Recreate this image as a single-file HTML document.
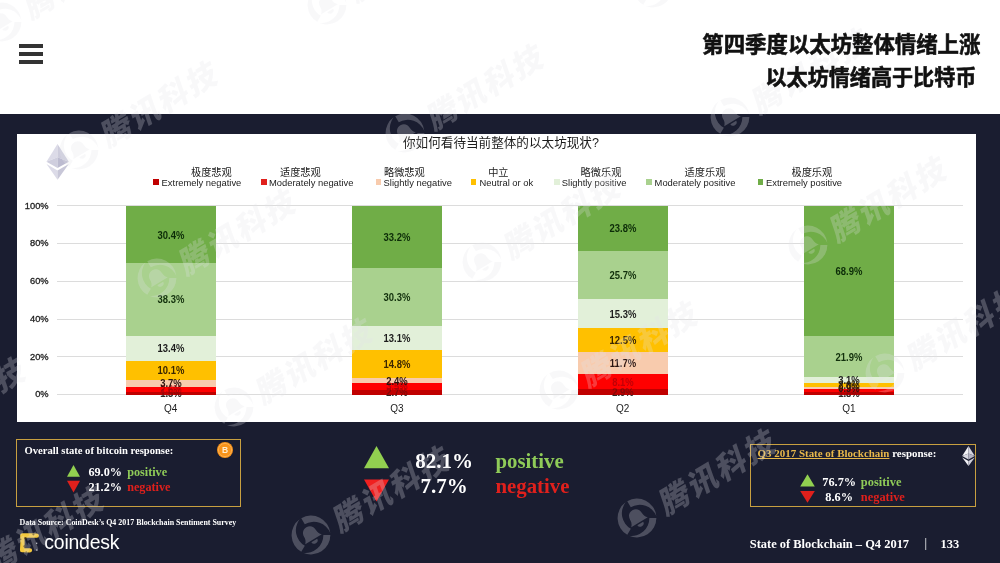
<!DOCTYPE html>
<html lang="zh"><head><meta charset="utf-8"><title>State of Blockchain Q4 2017</title>
<style>
html,body{margin:0;padding:0;}
body{width:1000px;height:563px;overflow:hidden;background:#fff;position:relative;font-family:"Liberation Sans","Noto Sans CJK SC",sans-serif;}
.abs{position:absolute;}
.dark{left:0;top:114px;width:1000px;height:449px;background:#1a1d30;}
.panel{left:17px;top:134px;width:959px;height:288px;background:#fff;}
.hb{left:19px;width:24px;height:4px;background:#333;}
.title{right:20px;white-space:nowrap;font-family:"Liberation Sans","Noto Sans CJK SC",sans-serif;font-weight:700;font-size:21.4px;line-height:30px;color:#111;letter-spacing:0px;text-align:right;-webkit-text-stroke:0.6px #111;z-index:5;}
.ctitle{white-space:nowrap;font-size:12.6px;line-height:16px;color:#1c1c1c;font-family:"Liberation Sans","Noto Sans CJK SC",sans-serif;}
.grid{left:56.5px;width:906px;height:1px;background:#dcdcdc;}
.yl{width:40px;left:8.6px;text-align:right;font-size:9.3px;line-height:12px;font-weight:400;-webkit-text-stroke:.3px #222;color:#222;white-space:nowrap;}
.xl{width:60px;text-align:center;font-size:10px;line-height:12px;color:#222;white-space:nowrap;}
.seg{position:absolute;}
.dl{position:absolute;width:60px;text-align:center;font-size:10.4px;line-height:12px;font-weight:700;white-space:nowrap;transform:scaleX(.91);}
.lgm{width:5.6px;height:5.6px;top:179px;}
.lge{top:176.5px;font-size:9.4px;line-height:12px;color:#222;white-space:nowrap;transform-origin:0 50%;}
.lgc{top:166.2px;font-size:10.2px;line-height:13px;color:#222;white-space:nowrap;font-family:"Liberation Sans","Noto Sans CJK SC",sans-serif;}
.box{border:1px solid #c8a040;box-sizing:border-box;}
.serif{font-family:"Liberation Serif","Noto Serif CJK SC",serif;font-weight:700;color:#fff;white-space:nowrap;}
.pos{color:#8fcb58;}
.neg{color:#e0201c;}
.wm{position:absolute;white-space:nowrap;transform-origin:0 0;pointer-events:none;}
.wm span{font-family:"Liberation Sans","Noto Sans CJK SC",sans-serif;font-weight:900;font-size:30.5px;letter-spacing:2.5px;line-height:34px;display:inline-block;transform:skewX(-12deg);}
</style></head><body>

<div class="abs hb" style="top:44px"></div><div class="abs hb" style="top:52px"></div><div class="abs hb" style="top:60px"></div>
<div class="abs title" style="top:30px;right:19.6px">第四季度以太坊整体情绪上涨</div>
<div class="abs title" style="top:62.6px;right:23.6px;font-size:21.1px">以太坊情绪高于比特币</div>
<div class="abs dark"></div>
<div class="abs panel"></div>
<div class="abs ctitle" style="left:403px;top:134.5px">你如何看待当前整体的以太坊现状?</div>
<svg class="abs" style="left:44px;top:142px" width="28" height="40" viewBox="0 0 28 40">
<polygon points="13.5,2 2.5,19.8 13.5,15.2" fill="#dcdbe8"/>
<polygon points="13.5,2 24.8,19.8 13.5,15.2" fill="#cdccdc"/>
<polygon points="2.5,19.8 13.5,15.2 13.5,26" fill="#cfcede"/>
<polygon points="24.8,19.8 13.5,15.2 13.5,26" fill="#bcbbd0"/>
<polygon points="2.5,22 13.5,28.4 13.5,37.8" fill="#dcdbe8"/>
<polygon points="24.8,22 13.5,28.4 13.5,37.8" fill="#c8c7d8"/>
</svg>
<div class="abs lgm" style="left:153.0px;background:#c00000"></div>
<div class="abs lge" id="lge0" style="left:161.6px">Extremely negative</div>
<div class="abs lgc" style="left:191.0px">极度悲观</div>
<div class="abs lgm" style="left:261.0px;background:#e0201c"></div>
<div class="abs lge" id="lge1" style="left:269.0px">Moderately negative</div>
<div class="abs lgc" style="left:280.0px">适度悲观</div>
<div class="abs lgm" style="left:375.5px;background:#f8cbad"></div>
<div class="abs lge" id="lge2" style="left:383.6px">Slightly negative</div>
<div class="abs lgc" style="left:384.0px">略微悲观</div>
<div class="abs lgm" style="left:470.8px;background:#ffc000"></div>
<div class="abs lge" id="lge3" style="left:479.5px">Neutral or ok</div>
<div class="abs lgc" style="left:488.2px">中立</div>
<div class="abs lgm" style="left:554.4px;background:#e2f0d9"></div>
<div class="abs lge" id="lge4" style="left:561.8px">Slightly positive</div>
<div class="abs lgc" style="left:580.6px">略微乐观</div>
<div class="abs lgm" style="left:646.2px;background:#a9d18e"></div>
<div class="abs lge" id="lge5" style="left:654.6px">Moderately positive</div>
<div class="abs lgc" style="left:684.6px">适度乐观</div>
<div class="abs lgm" style="left:757.6px;background:#70ad47"></div>
<div class="abs lge" id="lge6" style="left:766.0px">Extremely positive</div>
<div class="abs lgc" style="left:791.5px">极度乐观</div>
<div class="abs grid" style="top:394.1px"></div>
<div class="abs yl" style="top:388.4px">0%</div>
<div class="abs grid" style="top:356.3px"></div>
<div class="abs yl" style="top:350.6px">20%</div>
<div class="abs grid" style="top:318.6px"></div>
<div class="abs yl" style="top:312.9px">40%</div>
<div class="abs grid" style="top:280.8px"></div>
<div class="abs yl" style="top:275.1px">60%</div>
<div class="abs grid" style="top:243.1px"></div>
<div class="abs yl" style="top:237.4px">80%</div>
<div class="abs grid" style="top:205.3px"></div>
<div class="abs yl" style="top:199.6px">100%</div>
<div class="dl" style="left:140.7px;top:388.2px;color:#3a3434">1.5%</div>
<div class="seg" style="left:125.6px;top:205.80px;width:90.2px;height:188.80px;background:#70ad47"></div>
<div class="seg" style="left:125.6px;top:263.20px;width:90.2px;height:131.40px;background:#a9d18e"></div>
<div class="seg" style="left:125.6px;top:335.51px;width:90.2px;height:59.09px;background:#e2f0d9"></div>
<div class="seg" style="left:125.6px;top:360.80px;width:90.2px;height:33.80px;background:#ffc000"></div>
<div class="seg" style="left:125.6px;top:379.87px;width:90.2px;height:14.73px;background:#f8cbad"></div>
<div class="seg" style="left:125.6px;top:386.86px;width:90.2px;height:7.74px;background:#ff0000"></div>
<div class="seg" style="left:125.6px;top:391.77px;width:90.2px;height:2.83px;background:#c00000"></div>
<div class="dl" style="left:140.7px;top:388.2px;color:rgba(40,22,22,.42)">1.5%</div>
<div class="dl" style="left:140.7px;top:384.3px;color:rgba(176,0,8,.8)">2.6%</div>
<div class="dl" style="left:140.7px;top:378.4px;color:#2a1410">3.7%</div>
<div class="dl" style="left:140.7px;top:365.3px;color:#3a2600">10.1%</div>
<div class="dl" style="left:140.7px;top:343.2px;color:#1c1c1c">13.4%</div>
<div class="dl" style="left:140.7px;top:294.4px;color:#12300c">38.3%</div>
<div class="dl" style="left:140.7px;top:229.5px;color:#0c2c08">30.4%</div>
<div class="abs xl" style="left:140.7px;top:403.3px">Q4</div>
<div class="dl" style="left:367.0px;top:387.1px;color:#3a3434">2.7%</div>
<div class="seg" style="left:352.0px;top:205.80px;width:90.0px;height:188.80px;background:#70ad47"></div>
<div class="seg" style="left:352.0px;top:268.48px;width:90.0px;height:126.12px;background:#a9d18e"></div>
<div class="seg" style="left:352.0px;top:325.69px;width:90.0px;height:68.91px;background:#e2f0d9"></div>
<div class="seg" style="left:352.0px;top:350.42px;width:90.0px;height:44.18px;background:#ffc000"></div>
<div class="seg" style="left:352.0px;top:378.36px;width:90.0px;height:16.24px;background:#f8cbad"></div>
<div class="seg" style="left:352.0px;top:382.89px;width:90.0px;height:11.71px;background:#ff0000"></div>
<div class="seg" style="left:352.0px;top:389.50px;width:90.0px;height:5.10px;background:#c00000"></div>
<div class="dl" style="left:367.0px;top:387.1px;color:rgba(40,22,22,.42)">2.7%</div>
<div class="dl" style="left:367.0px;top:381.2px;color:rgba(176,0,8,.8)">3.5%</div>
<div class="dl" style="left:367.0px;top:375.6px;color:#2a1410">2.4%</div>
<div class="dl" style="left:367.0px;top:359.4px;color:#3a2600">14.8%</div>
<div class="dl" style="left:367.0px;top:333.1px;color:#1c1c1c">13.1%</div>
<div class="dl" style="left:367.0px;top:292.1px;color:#12300c">30.3%</div>
<div class="dl" style="left:367.0px;top:232.1px;color:#0c2c08">33.2%</div>
<div class="abs xl" style="left:367.0px;top:403.3px">Q3</div>
<div class="dl" style="left:592.7px;top:386.9px;color:#3a3434">2.9%</div>
<div class="seg" style="left:577.6px;top:205.80px;width:90.2px;height:188.80px;background:#70ad47"></div>
<div class="seg" style="left:577.6px;top:250.73px;width:90.2px;height:143.87px;background:#a9d18e"></div>
<div class="seg" style="left:577.6px;top:299.26px;width:90.2px;height:95.34px;background:#e2f0d9"></div>
<div class="seg" style="left:577.6px;top:328.14px;width:90.2px;height:66.46px;background:#ffc000"></div>
<div class="seg" style="left:577.6px;top:351.74px;width:90.2px;height:42.86px;background:#f8cbad"></div>
<div class="seg" style="left:577.6px;top:373.83px;width:90.2px;height:20.77px;background:#ff0000"></div>
<div class="seg" style="left:577.6px;top:389.12px;width:90.2px;height:5.48px;background:#c00000"></div>
<div class="dl" style="left:592.7px;top:386.9px;color:rgba(40,22,22,.42)">2.9%</div>
<div class="dl" style="left:592.7px;top:376.5px;color:rgba(176,0,8,.8)">8.1%</div>
<div class="dl" style="left:592.7px;top:357.8px;color:#2a1410">11.7%</div>
<div class="dl" style="left:592.7px;top:334.9px;color:#3a2600">12.5%</div>
<div class="dl" style="left:592.7px;top:308.7px;color:#1c1c1c">15.3%</div>
<div class="dl" style="left:592.7px;top:270.0px;color:#12300c">25.7%</div>
<div class="dl" style="left:592.7px;top:223.3px;color:#0c2c08">23.8%</div>
<div class="abs xl" style="left:592.7px;top:403.3px">Q2</div>
<div class="dl" style="left:819.0px;top:388.4px;color:#3a3434">1.8%</div>
<div class="seg" style="left:804.0px;top:205.80px;width:90.0px;height:188.80px;background:#70ad47"></div>
<div class="seg" style="left:804.0px;top:335.88px;width:90.0px;height:58.72px;background:#a9d18e"></div>
<div class="seg" style="left:804.0px;top:377.23px;width:90.0px;height:17.37px;background:#e2f0d9"></div>
<div class="seg" style="left:804.0px;top:382.89px;width:90.0px;height:11.71px;background:#ffc000"></div>
<div class="seg" style="left:804.0px;top:387.05px;width:90.0px;height:7.55px;background:#f8cbad"></div>
<div class="seg" style="left:804.0px;top:388.94px;width:90.0px;height:5.66px;background:#ff0000"></div>
<div class="seg" style="left:804.0px;top:392.15px;width:90.0px;height:2.45px;background:#c00000"></div>
<div class="dl" style="left:819.0px;top:388.4px;color:rgba(40,22,22,.42)">1.8%</div>
<div class="dl" style="left:819.0px;top:385.5px;color:rgba(176,0,8,.8)">1.4%</div>
<div class="dl" style="left:819.0px;top:383.0px;color:#2a1410">0.9%</div>
<div class="dl" style="left:819.0px;top:380.0px;color:#3a2600">2.0%</div>
<div class="dl" style="left:819.0px;top:375.1px;color:#1c1c1c">3.1%</div>
<div class="dl" style="left:819.0px;top:351.6px;color:#12300c">21.9%</div>
<div class="dl" style="left:819.0px;top:265.8px;color:#0c2c08">68.9%</div>
<div class="abs xl" style="left:819.0px;top:403.3px">Q1</div>
<div class="abs box" style="left:16px;top:439px;width:225px;height:68px"></div>
<div class="abs serif" id="lb1" style="left:24.5px;top:443.5px;font-size:10.6px;line-height:14px">Overall state of bitcoin response:</div>
<svg class="abs" style="left:66px;top:464px" width="16" height="30" viewBox="0 0 16 30"><polygon points="7.5,1 14,12.8 1,12.8" fill="#92d050"/><polygon points="1,16.8 14,16.8 7.5,28.4" fill="#e0201c"/></svg>
<div class="abs serif" style="left:88.4px;top:464.2px;font-size:12.2px;line-height:16px">69.0% <span class="pos" style="margin-left:2.2px">positive</span></div>
<div class="abs serif" style="left:88.4px;top:479px;font-size:12.2px;line-height:16px">21.2% <span class="neg" style="margin-left:2.2px">negative</span></div>
<svg class="abs" style="left:216px;top:441px" width="18" height="18" viewBox="0 0 18 18"><circle cx="9" cy="9" r="8" fill="#f7931a"/><circle cx="9" cy="9" r="6.6" fill="none" stroke="#fbb55c" stroke-width="0.8"/><text x="9" y="12.100" text-anchor="middle" font-family="Liberation Sans, sans-serif" font-weight="700" font-size="8.500" fill="#ffeccc">B</text></svg>
<div class="abs serif" id="ds" style="left:19.5px;top:516.7px;font-size:7.95px;line-height:12px">Data Source: CoinDesk’s Q4 2017 Blockchain Sentiment Survey</div>
<svg class="abs" style="left:18px;top:531px" width="24" height="24" viewBox="0 0 24 24">
<path d="M18.800,4.700 L11.600,4.300 L4.300,4.500 L4.500,11.800 L4.100,19.200 L12,19.300" fill="none" stroke="#f4c93e" stroke-width="4.300" stroke-linejoin="round" stroke-linecap="round"/>
<g fill="#4a3608" opacity=".75"><circle cx="7.400" cy="7.300" r="1.300"/><circle cx="15.400" cy="3.300" r="1.100"/><circle cx="6.600" cy="15.200" r="1.200"/><circle cx="2.700" cy="8.200" r=".8"/><circle cx="8.200" cy="21" r=".8"/></g>
<g fill="#fff" opacity=".8"><circle cx="18.700" cy="12.300" r=".7"/><circle cx="18.900" cy="19.100" r=".8"/></g>
</svg>
<div class="abs" id="cd" style="left:44.3px;top:529.5px;font-size:19.4px;line-height:24px;color:#fff;white-space:nowrap;letter-spacing:-0.2px">coindesk</div>
<svg class="abs" style="left:362px;top:444px" width="30" height="60" viewBox="0 0 30 60"><polygon points="14.5,2 27,24.2 2,24.2" fill="#92d050"/><polygon points="2,35.4 27,35.4 14.5,57.6" fill="#f02020"/></svg>
<div class="abs serif" style="left:394px;width:100px;text-align:center;top:449.3px;font-size:21px;line-height:24px">82.1%</div>
<div class="abs serif" style="left:394px;width:100px;text-align:center;top:474.3px;font-size:21px;line-height:24px">7.7%</div>
<div class="abs serif pos" style="left:495.5px;top:449.4px;font-size:20.8px;line-height:24px">positive</div>
<div class="abs serif neg" style="left:495.5px;top:474.4px;font-size:20.8px;line-height:24px">negative</div>
<div class="abs box" style="left:750px;top:444px;width:226px;height:63px"></div>
<div class="abs serif" id="rb1" style="left:757.6px;top:446.4px;font-size:10.95px;line-height:14px"><span style="color:#e8b84a;text-decoration:underline">Q3 2017 State of Blockchain</span> response:</div>
<svg class="abs" style="left:799px;top:473px" width="17" height="31" viewBox="0 0 17 31"><polygon points="8.5,1.2 15.8,13.4 1.2,13.4" fill="#92d050"/><polygon points="1.2,18 15.8,18 8.5,29.8" fill="#e0201c"/></svg>
<div class="abs serif" style="left:809.2px;width:60px;text-align:center;top:474px;font-size:12.3px;line-height:16px">76.7%</div>
<div class="abs serif" style="left:809.2px;width:60px;text-align:center;top:488.8px;font-size:12.3px;line-height:16px">8.6%</div>
<div class="abs serif pos" style="left:860.8px;top:474px;font-size:12.4px;line-height:16px">positive</div>
<div class="abs serif neg" style="left:860.8px;top:488.8px;font-size:12.4px;line-height:16px">negative</div>
<svg class="abs" style="left:961px;top:445px" width="15" height="22" viewBox="0 0 15 22">
<polygon points="7.5,1 1.2,11 7.5,8.4" fill="#f2f2f6"/><polygon points="7.5,1 13.8,11 7.5,8.4" fill="#d4d4de"/>
<polygon points="1.2,11 7.5,8.4 7.5,14.6" fill="#d8d8e2"/><polygon points="13.8,11 7.5,8.4 7.5,14.6" fill="#b4b4c4"/>
<polygon points="1.2,12.4 7.5,16 7.5,21" fill="#f2f2f6"/><polygon points="13.8,12.4 7.5,16 7.5,21" fill="#cfcfda"/></svg>
<div class="abs serif" id="ft" style="left:749.8px;top:535.8px;font-size:12.45px;line-height:16px">State of Blockchain – Q4 2017</div>
<div class="abs serif" style="left:924.5px;top:535px;font-size:12.9px;line-height:16px;font-weight:400">|</div>
<div class="abs serif" style="left:940.5px;top:535.8px;font-size:12.45px;line-height:16px">133</div>
<div class="abs" id="wms" style="left:0;top:0;width:1000px;height:563px;overflow:hidden;opacity:.25">
<div class="wm" style="left:-190.0px;top:318.1px;transform:rotate(-31deg)"><svg style="position:absolute;left:-20px;top:-20px" width="40" height="40" viewBox="0 0 40 40"><path d="M20.3,0.6A19.4,19.4 0 0 1 37.6,28.2A17.8,17.8 0 0 0 20.2,7.6ZM36.6,30.0A19.4,19.4 0 0 1 4.1,31.1A17.8,17.8 0 0 0 30.6,26.4ZM3.0,29.4A19.4,19.4 0 0 1 18.3,0.7A17.8,17.8 0 0 0 9.2,26.0Z" fill="#e4e4ea"/><path transform="translate(20 20) scale(1.22) translate(-20 -19)" d="M20 11.600c-3.600 0-5.600 2.700-5.600 5.900 0 2.300-.7 3.900-2.300 5.500h15.800c-1.600-1.600-2.300-3.200-2.300-5.500 0-3.200-2-5.900-5.600-5.900zM17.200 24.200a2.800 2.600 0 0 0 5.600 0z" fill="#e4e4ea"/></svg><span style="position:absolute;left:28px;top:-15.5px;color:#e4e4ea">腾讯科技</span></div>
<div class="wm" style="left:-112.7px;top:446.4px;transform:rotate(-31deg)"><svg style="position:absolute;left:-20px;top:-20px" width="40" height="40" viewBox="0 0 40 40"><path d="M20.3,0.6A19.4,19.4 0 0 1 37.6,28.2A17.8,17.8 0 0 0 20.2,7.6ZM36.6,30.0A19.4,19.4 0 0 1 4.1,31.1A17.8,17.8 0 0 0 30.6,26.4ZM3.0,29.4A19.4,19.4 0 0 1 18.3,0.7A17.8,17.8 0 0 0 9.2,26.0Z" fill="#e4e4ea"/><path transform="translate(20 20) scale(1.22) translate(-20 -19)" d="M20 11.600c-3.600 0-5.600 2.700-5.600 5.900 0 2.300-.7 3.900-2.300 5.500h15.800c-1.600-1.600-2.300-3.200-2.300-5.500 0-3.200-2-5.900-5.600-5.900zM17.200 24.200a2.800 2.600 0 0 0 5.600 0z" fill="#e4e4ea"/></svg><span style="position:absolute;left:28px;top:-15.5px;color:#e4e4ea">腾讯科技</span></div>
<div class="wm" style="left:-35.4px;top:574.7px;transform:rotate(-31deg)"><svg style="position:absolute;left:-20px;top:-20px" width="40" height="40" viewBox="0 0 40 40"><path d="M20.3,0.6A19.4,19.4 0 0 1 37.6,28.2A17.8,17.8 0 0 0 20.2,7.6ZM36.6,30.0A19.4,19.4 0 0 1 4.1,31.1A17.8,17.8 0 0 0 30.6,26.4ZM3.0,29.4A19.4,19.4 0 0 1 18.3,0.7A17.8,17.8 0 0 0 9.2,26.0Z" fill="#e4e4ea"/><path transform="translate(20 20) scale(1.22) translate(-20 -19)" d="M20 11.600c-3.600 0-5.600 2.700-5.600 5.900 0 2.300-.7 3.900-2.300 5.500h15.800c-1.600-1.600-2.300-3.200-2.300-5.500 0-3.200-2-5.900-5.600-5.900zM17.200 24.200a2.800 2.600 0 0 0 5.600 0z" fill="#e4e4ea"/></svg><span style="position:absolute;left:28px;top:-15.5px;color:#e4e4ea">腾讯科技</span></div>
<div class="wm" style="left:1.9px;top:21.8px;transform:rotate(-31deg)"><svg style="position:absolute;left:-20px;top:-20px" width="40" height="40" viewBox="0 0 40 40"><path d="M20.3,0.6A19.4,19.4 0 0 1 37.6,28.2A17.8,17.8 0 0 0 20.2,7.6ZM36.6,30.0A19.4,19.4 0 0 1 4.1,31.1A17.8,17.8 0 0 0 30.6,26.4ZM3.0,29.4A19.4,19.4 0 0 1 18.3,0.7A17.8,17.8 0 0 0 9.2,26.0Z" fill="#e4e4ea"/><path transform="translate(20 20) scale(1.22) translate(-20 -19)" d="M20 11.600c-3.600 0-5.600 2.700-5.600 5.900 0 2.300-.7 3.900-2.300 5.500h15.800c-1.600-1.600-2.300-3.200-2.300-5.500 0-3.200-2-5.900-5.600-5.900zM17.200 24.200a2.800 2.600 0 0 0 5.600 0z" fill="#e4e4ea"/></svg><span style="position:absolute;left:28px;top:-15.5px;color:#e4e4ea">腾讯科技</span></div>
<div class="wm" style="left:79.2px;top:150.1px;transform:rotate(-31deg)"><svg style="position:absolute;left:-20px;top:-20px" width="40" height="40" viewBox="0 0 40 40"><path d="M20.3,0.6A19.4,19.4 0 0 1 37.6,28.2A17.8,17.8 0 0 0 20.2,7.6ZM36.6,30.0A19.4,19.4 0 0 1 4.1,31.1A17.8,17.8 0 0 0 30.6,26.4ZM3.0,29.4A19.4,19.4 0 0 1 18.3,0.7A17.8,17.8 0 0 0 9.2,26.0Z" fill="#e4e4ea"/><path transform="translate(20 20) scale(1.22) translate(-20 -19)" d="M20 11.600c-3.600 0-5.600 2.700-5.600 5.900 0 2.300-.7 3.900-2.300 5.500h15.800c-1.600-1.600-2.300-3.200-2.300-5.500 0-3.200-2-5.900-5.600-5.900zM17.200 24.200a2.800 2.600 0 0 0 5.600 0z" fill="#e4e4ea"/></svg><span style="position:absolute;left:28px;top:-15.5px;color:#e4e4ea">腾讯科技</span></div>
<div class="wm" style="left:156.5px;top:278.4px;transform:rotate(-31deg)"><svg style="position:absolute;left:-20px;top:-20px" width="40" height="40" viewBox="0 0 40 40"><path d="M20.3,0.6A19.4,19.4 0 0 1 37.6,28.2A17.8,17.8 0 0 0 20.2,7.6ZM36.6,30.0A19.4,19.4 0 0 1 4.1,31.1A17.8,17.8 0 0 0 30.6,26.4ZM3.0,29.4A19.4,19.4 0 0 1 18.3,0.7A17.8,17.8 0 0 0 9.2,26.0Z" fill="#e4e4ea"/><path transform="translate(20 20) scale(1.22) translate(-20 -19)" d="M20 11.600c-3.600 0-5.600 2.700-5.600 5.900 0 2.300-.7 3.900-2.300 5.500h15.800c-1.600-1.600-2.300-3.200-2.300-5.500 0-3.200-2-5.900-5.600-5.900zM17.200 24.200a2.800 2.600 0 0 0 5.600 0z" fill="#e4e4ea"/></svg><span style="position:absolute;left:28px;top:-15.5px;color:#e4e4ea">腾讯科技</span></div>
<div class="wm" style="left:233.8px;top:406.7px;transform:rotate(-31deg)"><svg style="position:absolute;left:-20px;top:-20px" width="40" height="40" viewBox="0 0 40 40"><path d="M20.3,0.6A19.4,19.4 0 0 1 37.6,28.2A17.8,17.8 0 0 0 20.2,7.6ZM36.6,30.0A19.4,19.4 0 0 1 4.1,31.1A17.8,17.8 0 0 0 30.6,26.4ZM3.0,29.4A19.4,19.4 0 0 1 18.3,0.7A17.8,17.8 0 0 0 9.2,26.0Z" fill="#e4e4ea"/><path transform="translate(20 20) scale(1.22) translate(-20 -19)" d="M20 11.600c-3.600 0-5.600 2.700-5.600 5.900 0 2.300-.7 3.900-2.300 5.500h15.800c-1.600-1.600-2.300-3.200-2.300-5.500 0-3.200-2-5.900-5.600-5.900zM17.200 24.200a2.800 2.600 0 0 0 5.600 0z" fill="#e4e4ea"/></svg><span style="position:absolute;left:28px;top:-15.5px;color:#e4e4ea">腾讯科技</span></div>
<div class="wm" style="left:311.1px;top:535.0px;transform:rotate(-31deg)"><svg style="position:absolute;left:-20px;top:-20px" width="40" height="40" viewBox="0 0 40 40"><path d="M20.3,0.6A19.4,19.4 0 0 1 37.6,28.2A17.8,17.8 0 0 0 20.2,7.6ZM36.6,30.0A19.4,19.4 0 0 1 4.1,31.1A17.8,17.8 0 0 0 30.6,26.4ZM3.0,29.4A19.4,19.4 0 0 1 18.3,0.7A17.8,17.8 0 0 0 9.2,26.0Z" fill="#e4e4ea"/><path transform="translate(20 20) scale(1.22) translate(-20 -19)" d="M20 11.600c-3.600 0-5.600 2.700-5.600 5.900 0 2.300-.7 3.900-2.300 5.500h15.800c-1.600-1.600-2.300-3.200-2.300-5.500 0-3.200-2-5.900-5.600-5.900zM17.200 24.200a2.800 2.600 0 0 0 5.600 0z" fill="#e4e4ea"/></svg><span style="position:absolute;left:28px;top:-15.5px;color:#e4e4ea">腾讯科技</span></div>
<div class="wm" style="left:327.4px;top:5.1px;transform:rotate(-31deg)"><svg style="position:absolute;left:-20px;top:-20px" width="40" height="40" viewBox="0 0 40 40"><path d="M20.3,0.6A19.4,19.4 0 0 1 37.6,28.2A17.8,17.8 0 0 0 20.2,7.6ZM36.6,30.0A19.4,19.4 0 0 1 4.1,31.1A17.8,17.8 0 0 0 30.6,26.4ZM3.0,29.4A19.4,19.4 0 0 1 18.3,0.7A17.8,17.8 0 0 0 9.2,26.0Z" fill="#e4e4ea"/><path transform="translate(20 20) scale(1.22) translate(-20 -19)" d="M20 11.600c-3.600 0-5.600 2.700-5.600 5.900 0 2.300-.7 3.900-2.300 5.500h15.800c-1.600-1.600-2.300-3.200-2.300-5.500 0-3.200-2-5.900-5.600-5.900zM17.200 24.200a2.800 2.600 0 0 0 5.600 0z" fill="#e4e4ea"/></svg><span style="position:absolute;left:28px;top:-15.5px;color:#e4e4ea">腾讯科技</span></div>
<div class="wm" style="left:404.7px;top:133.4px;transform:rotate(-31deg)"><svg style="position:absolute;left:-20px;top:-20px" width="40" height="40" viewBox="0 0 40 40"><path d="M20.3,0.6A19.4,19.4 0 0 1 37.6,28.2A17.8,17.8 0 0 0 20.2,7.6ZM36.6,30.0A19.4,19.4 0 0 1 4.1,31.1A17.8,17.8 0 0 0 30.6,26.4ZM3.0,29.4A19.4,19.4 0 0 1 18.3,0.7A17.8,17.8 0 0 0 9.2,26.0Z" fill="#e4e4ea"/><path transform="translate(20 20) scale(1.22) translate(-20 -19)" d="M20 11.600c-3.600 0-5.600 2.700-5.600 5.900 0 2.300-.7 3.900-2.300 5.500h15.800c-1.600-1.600-2.300-3.200-2.300-5.500 0-3.200-2-5.900-5.600-5.900zM17.200 24.200a2.800 2.600 0 0 0 5.600 0z" fill="#e4e4ea"/></svg><span style="position:absolute;left:28px;top:-15.5px;color:#e4e4ea">腾讯科技</span></div>
<div class="wm" style="left:482.0px;top:261.7px;transform:rotate(-31deg)"><svg style="position:absolute;left:-20px;top:-20px" width="40" height="40" viewBox="0 0 40 40"><path d="M20.3,0.6A19.4,19.4 0 0 1 37.6,28.2A17.8,17.8 0 0 0 20.2,7.6ZM36.6,30.0A19.4,19.4 0 0 1 4.1,31.1A17.8,17.8 0 0 0 30.6,26.4ZM3.0,29.4A19.4,19.4 0 0 1 18.3,0.7A17.8,17.8 0 0 0 9.2,26.0Z" fill="#e4e4ea"/><path transform="translate(20 20) scale(1.22) translate(-20 -19)" d="M20 11.600c-3.600 0-5.600 2.700-5.600 5.900 0 2.300-.7 3.900-2.300 5.500h15.800c-1.600-1.600-2.300-3.200-2.300-5.500 0-3.200-2-5.900-5.600-5.900zM17.200 24.200a2.800 2.600 0 0 0 5.600 0z" fill="#e4e4ea"/></svg><span style="position:absolute;left:28px;top:-15.5px;color:#e4e4ea">腾讯科技</span></div>
<div class="wm" style="left:559.3px;top:390.0px;transform:rotate(-31deg)"><svg style="position:absolute;left:-20px;top:-20px" width="40" height="40" viewBox="0 0 40 40"><path d="M20.3,0.6A19.4,19.4 0 0 1 37.6,28.2A17.8,17.8 0 0 0 20.2,7.6ZM36.6,30.0A19.4,19.4 0 0 1 4.1,31.1A17.8,17.8 0 0 0 30.6,26.4ZM3.0,29.4A19.4,19.4 0 0 1 18.3,0.7A17.8,17.8 0 0 0 9.2,26.0Z" fill="#e4e4ea"/><path transform="translate(20 20) scale(1.22) translate(-20 -19)" d="M20 11.600c-3.600 0-5.600 2.700-5.600 5.900 0 2.300-.7 3.900-2.300 5.500h15.800c-1.600-1.600-2.300-3.200-2.300-5.500 0-3.200-2-5.900-5.600-5.900zM17.200 24.200a2.800 2.600 0 0 0 5.600 0z" fill="#e4e4ea"/></svg><span style="position:absolute;left:28px;top:-15.5px;color:#e4e4ea">腾讯科技</span></div>
<div class="wm" style="left:636.6px;top:518.3px;transform:rotate(-31deg)"><svg style="position:absolute;left:-20px;top:-20px" width="40" height="40" viewBox="0 0 40 40"><path d="M20.3,0.6A19.4,19.4 0 0 1 37.6,28.2A17.8,17.8 0 0 0 20.2,7.6ZM36.6,30.0A19.4,19.4 0 0 1 4.1,31.1A17.8,17.8 0 0 0 30.6,26.4ZM3.0,29.4A19.4,19.4 0 0 1 18.3,0.7A17.8,17.8 0 0 0 9.2,26.0Z" fill="#e4e4ea"/><path transform="translate(20 20) scale(1.22) translate(-20 -19)" d="M20 11.600c-3.600 0-5.600 2.700-5.600 5.900 0 2.300-.7 3.900-2.300 5.500h15.800c-1.600-1.600-2.300-3.200-2.300-5.500 0-3.200-2-5.900-5.600-5.900zM17.200 24.200a2.800 2.600 0 0 0 5.600 0z" fill="#e4e4ea"/></svg><span style="position:absolute;left:28px;top:-15.5px;color:#e4e4ea">腾讯科技</span></div>
<div class="wm" style="left:652.9px;top:-11.6px;transform:rotate(-31deg)"><svg style="position:absolute;left:-20px;top:-20px" width="40" height="40" viewBox="0 0 40 40"><path d="M20.3,0.6A19.4,19.4 0 0 1 37.6,28.2A17.8,17.8 0 0 0 20.2,7.6ZM36.6,30.0A19.4,19.4 0 0 1 4.1,31.1A17.8,17.8 0 0 0 30.6,26.4ZM3.0,29.4A19.4,19.4 0 0 1 18.3,0.7A17.8,17.8 0 0 0 9.2,26.0Z" fill="#e4e4ea"/><path transform="translate(20 20) scale(1.22) translate(-20 -19)" d="M20 11.600c-3.600 0-5.600 2.700-5.600 5.900 0 2.300-.7 3.900-2.300 5.500h15.800c-1.600-1.600-2.300-3.200-2.300-5.500 0-3.200-2-5.900-5.600-5.900zM17.200 24.200a2.800 2.600 0 0 0 5.600 0z" fill="#e4e4ea"/></svg><span style="position:absolute;left:28px;top:-15.5px;color:#e4e4ea">腾讯科技</span></div>
<div class="wm" style="left:730.2px;top:116.7px;transform:rotate(-31deg)"><svg style="position:absolute;left:-20px;top:-20px" width="40" height="40" viewBox="0 0 40 40"><path d="M20.3,0.6A19.4,19.4 0 0 1 37.6,28.2A17.8,17.8 0 0 0 20.2,7.6ZM36.6,30.0A19.4,19.4 0 0 1 4.1,31.1A17.8,17.8 0 0 0 30.6,26.4ZM3.0,29.4A19.4,19.4 0 0 1 18.3,0.7A17.8,17.8 0 0 0 9.2,26.0Z" fill="#e4e4ea"/><path transform="translate(20 20) scale(1.22) translate(-20 -19)" d="M20 11.600c-3.600 0-5.600 2.700-5.600 5.900 0 2.300-.7 3.900-2.300 5.500h15.800c-1.600-1.600-2.300-3.200-2.300-5.500 0-3.200-2-5.900-5.600-5.900zM17.200 24.200a2.800 2.600 0 0 0 5.600 0z" fill="#e4e4ea"/></svg><span style="position:absolute;left:28px;top:-15.5px;color:#e4e4ea">腾讯科技</span></div>
<div class="wm" style="left:807.5px;top:245.0px;transform:rotate(-31deg)"><svg style="position:absolute;left:-20px;top:-20px" width="40" height="40" viewBox="0 0 40 40"><path d="M20.3,0.6A19.4,19.4 0 0 1 37.6,28.2A17.8,17.8 0 0 0 20.2,7.6ZM36.6,30.0A19.4,19.4 0 0 1 4.1,31.1A17.8,17.8 0 0 0 30.6,26.4ZM3.0,29.4A19.4,19.4 0 0 1 18.3,0.7A17.8,17.8 0 0 0 9.2,26.0Z" fill="#e4e4ea"/><path transform="translate(20 20) scale(1.22) translate(-20 -19)" d="M20 11.600c-3.600 0-5.600 2.700-5.600 5.900 0 2.300-.7 3.900-2.300 5.500h15.800c-1.600-1.600-2.300-3.200-2.300-5.500 0-3.200-2-5.900-5.600-5.900zM17.200 24.200a2.800 2.600 0 0 0 5.600 0z" fill="#e4e4ea"/></svg><span style="position:absolute;left:28px;top:-15.5px;color:#e4e4ea">腾讯科技</span></div>
<div class="wm" style="left:884.8px;top:373.3px;transform:rotate(-31deg)"><svg style="position:absolute;left:-20px;top:-20px" width="40" height="40" viewBox="0 0 40 40"><path d="M20.3,0.6A19.4,19.4 0 0 1 37.6,28.2A17.8,17.8 0 0 0 20.2,7.6ZM36.6,30.0A19.4,19.4 0 0 1 4.1,31.1A17.8,17.8 0 0 0 30.6,26.4ZM3.0,29.4A19.4,19.4 0 0 1 18.3,0.7A17.8,17.8 0 0 0 9.2,26.0Z" fill="#e4e4ea"/><path transform="translate(20 20) scale(1.22) translate(-20 -19)" d="M20 11.600c-3.600 0-5.600 2.700-5.600 5.900 0 2.300-.7 3.900-2.300 5.500h15.800c-1.600-1.600-2.300-3.200-2.300-5.500 0-3.200-2-5.900-5.600-5.900zM17.200 24.200a2.800 2.600 0 0 0 5.600 0z" fill="#e4e4ea"/></svg><span style="position:absolute;left:28px;top:-15.5px;color:#e4e4ea">腾讯科技</span></div>
<div class="wm" style="left:978.4px;top:-28.3px;transform:rotate(-31deg)"><svg style="position:absolute;left:-20px;top:-20px" width="40" height="40" viewBox="0 0 40 40"><path d="M20.3,0.6A19.4,19.4 0 0 1 37.6,28.2A17.8,17.8 0 0 0 20.2,7.6ZM36.6,30.0A19.4,19.4 0 0 1 4.1,31.1A17.8,17.8 0 0 0 30.6,26.4ZM3.0,29.4A19.4,19.4 0 0 1 18.3,0.7A17.8,17.8 0 0 0 9.2,26.0Z" fill="#e4e4ea"/><path transform="translate(20 20) scale(1.22) translate(-20 -19)" d="M20 11.600c-3.600 0-5.600 2.700-5.600 5.900 0 2.300-.7 3.900-2.300 5.500h15.800c-1.600-1.600-2.300-3.200-2.300-5.500 0-3.200-2-5.900-5.600-5.900zM17.200 24.200a2.800 2.600 0 0 0 5.600 0z" fill="#e4e4ea"/></svg><span style="position:absolute;left:28px;top:-15.5px;color:#e4e4ea">腾讯科技</span></div>
</div>
</body></html>
